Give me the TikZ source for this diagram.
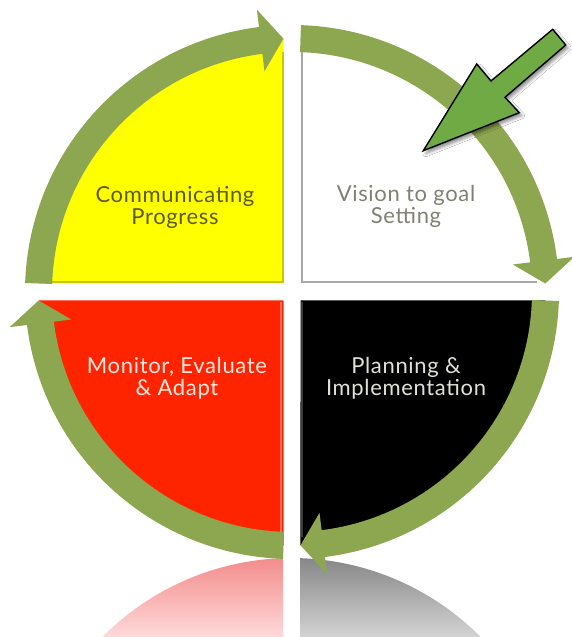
\documentclass[tikz,border=0pt]{standalone}
\usepackage{fontspec}
\newfontfamily\lblfont{Lato}[LetterSpace=3]
\usetikzlibrary{shadows.blur}
\definecolor{ringgreen}{RGB}{141,166,80}
\definecolor{callgreen}{RGB}{112,170,68}
\definecolor{qyellow}{RGB}{255,255,0}
\definecolor{qyellowdark}{RGB}{200,200,0}
\definecolor{qred}{RGB}{255,36,0}
\definecolor{qredlight}{RGB}{255,110,90}
\definecolor{qblack}{RGB}{0,0,0}
\definecolor{qblackedge}{RGB}{60,60,60}
\definecolor{qwhiteedge}{RGB}{168,168,168}
\definecolor{txtyellow}{RGB}{90,90,20}
\definecolor{txtwhite}{RGB}{128,128,115}
\definecolor{txtred}{RGB}{255,232,226}
\definecolor{txtblack}{RGB}{225,225,215}
\definecolor{pinktop}{RGB}{243,140,140}
\definecolor{pinkbot}{RGB}{255,218,218}
\definecolor{graytop}{RGB}{135,135,135}
\definecolor{graybot}{RGB}{212,212,212}
\tikzset{
  ringarrow/.style={fill=ringgreen},
  lbl/.style={font=\lblfont\fontsize{22}{22}\selectfont, align=center, inner sep=0pt},
  callout/.style={fill=callgreen, draw=black, line width=1.4pt, line join=miter,
    blur shadow={shadow xshift=2.5pt, shadow yshift=-3pt, shadow blur radius=3pt, shadow opacity=45}},
}
\newcommand\ringarr[3]{%
  \fill[ringarrow] (#1:267) arc[start angle=#1, end angle=#2, radius=267]
    -- (#2:284.5) -- (#3:253.5) -- (#2:222.5) -- (#2:240)
    arc[start angle=#2, end angle=#1, radius=240] -- cycle;}
\begin{document}
\begin{tikzpicture}[x=1pt,y=1pt]
\useasboundingbox (0,0) rectangle (572,637);
\fill[white] (0,0) rectangle (572,637);

% reflections
\shade[top color=pinktop, bottom color=pinkbot]
  (283,0) -- (283,78.85) arc[start angle=91.93, end angle=135.24, radius=267] -- cycle;
\shade[top color=graytop, bottom color=graybot]
  (300,0) -- (300,78.85) arc[start angle=88.07, end angle=44.76, radius=267] -- cycle;

\begin{scope}[shift={(292,345)}]
  % quadrants
  \fill[qyellow] (-8.5,8.5) -- (91.92:253.5) arc[start angle=91.92, end angle=178.08, radius=253.5] -- cycle;
  \draw[qyellowdark, line width=2pt] (-240,9.5) -- (-9.5,9.5) -- (-9.5,240);
  \fill[white] (8.5,8.5) -- (1.92:253.5) arc[start angle=1.92, end angle=88.08, radius=253.5] -- cycle;
  \draw[qwhiteedge, line width=2.5pt] (10,245) -- (10,10) -- (245,10);
  \fill[qred] (-8.5,-8.5) -- (-178.08:253.5) arc[start angle=-178.08, end angle=-91.92, radius=253.5] -- cycle;
  \draw[qredlight, line width=1.2pt] (-11,-10) -- (-11,-240);
  \fill[qblack] (8.5,-8.5) -- (-88.08:253.5) arc[start angle=-88.08, end angle=-1.92, radius=253.5] -- cycle;
  \draw[qblackedge, line width=2pt] (10,-10) -- (10,-245);

  % ring arrows
  \ringarr{178.08}{97.1}{91.92}
  \ringarr{88.08}{7.1}{1.92}
  \ringarr{-1.92}{-82.9}{-88.08}
  \ringarr{-91.92}{-172.9}{-178.08}
\end{scope}

% labels
\node[lbl, text=txtyellow] (comm) at (175,430) {Communicating\\Progress};
\node[lbl, text=txtwhite] (vision) at (406,431) {Vision to goal\\Setting};
\node[lbl, text=txtred] (monitor) at (177,259) {Monitor, Evaluate\\\& Adapt};
\node[lbl, text=txtblack] (plan) at (406,259) {Planning \&\\Implementation};

% callout arrow
\draw[callout] (423.3,486.3) -- (476.7,573) -- (491,556) -- (552.7,607.7)
  -- (565.7,592) -- (505,539.7) -- (519.3,524.3) -- cycle;
\end{tikzpicture}
\end{document}
